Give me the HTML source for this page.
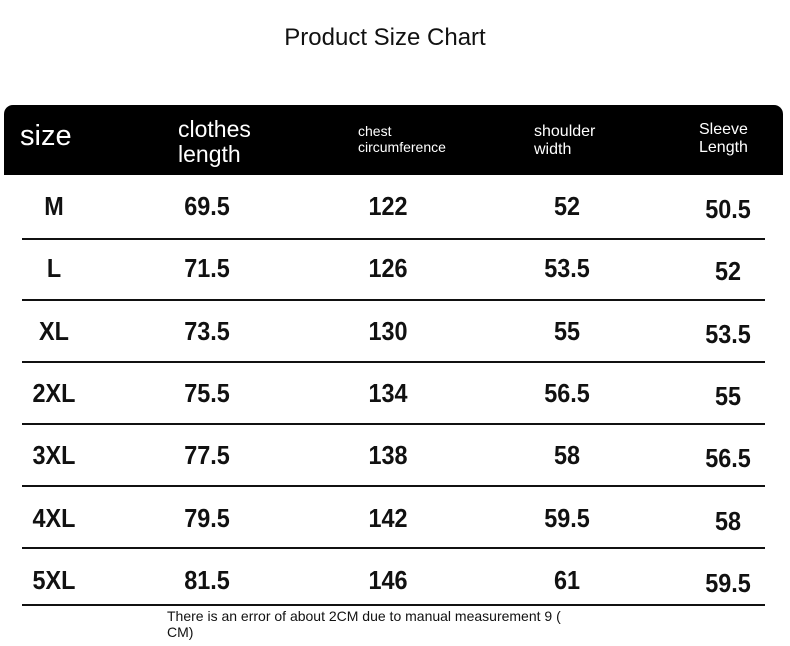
<!DOCTYPE html>
<html><head><meta charset="utf-8"><style>
body{margin:0;width:790px;height:646px;background:#fff;position:relative;overflow:hidden;font-family:"Liberation Sans","DejaVu Sans",sans-serif;}
.a{position:absolute;white-space:nowrap;}
.t{left:0;width:770px;text-align:center;top:24px;font-size:24px;color:#111;}
.hd{left:4px;top:105px;width:779px;height:70px;background:#000;border-radius:9px 9px 0 0;}
.h{color:#fff;}
.v{font-size:26px;font-weight:bold;color:#111;transform:translateX(-50%) scaleX(0.9);text-align:center;}
.ln{left:22px;width:743px;height:1.5px;background:#111;}
</style></head><body>
<div class="a t">Product Size Chart</div>
<div class="a hd"></div>
<div class="a h" style="left:20px;top:120px;font-size:29px;">size</div>
<div class="a h" style="left:178px;top:117px;font-size:23px;line-height:25px;">clothes<br>length</div>
<div class="a h" style="left:358px;top:123px;font-size:14px;line-height:16px;">chest<br>circumference</div>
<div class="a h" style="left:534px;top:123px;font-size:16px;line-height:18px;">shoulder<br>width</div>
<div class="a h" style="left:699px;top:121px;font-size:16px;line-height:18px;">Sleeve<br>Length</div>
<div class="a ln" style="top:238px"></div>
<div class="a ln" style="top:299px"></div>
<div class="a ln" style="top:361px"></div>
<div class="a ln" style="top:423px"></div>
<div class="a ln" style="top:485px"></div>
<div class="a ln" style="top:547px"></div>
<div class="a ln" style="top:604px"></div>
<div id="rows"></div>
<div class="a" style="left:167px;top:608px;font-size:14px;line-height:16px;color:#111;">There is an error of about 2CM due to manual measurement 9 (<br>CM)</div>
<script>
var d=[["M","69.5","122","52","50.5"],["L","71.5","126","53.5","52"],["XL","73.5","130","55","53.5"],["2XL","75.5","134","56.5","55"],["3XL","77.5","138","58","56.5"],["4XL","79.5","142","59.5","58"],["5XL","81.5","146","61","59.5"]];
var xs=[54,207,388,567,728],h="";
d.forEach(function(r,i){var y=191+i*62.3;r.forEach(function(c,j){h+='<div class="a v" style="left:'+xs[j]+'px;top:'+(y+(j==4?3:0))+'px">'+c+'</div>';});});
document.getElementById("rows").innerHTML=h;
</script>
</body></html>
